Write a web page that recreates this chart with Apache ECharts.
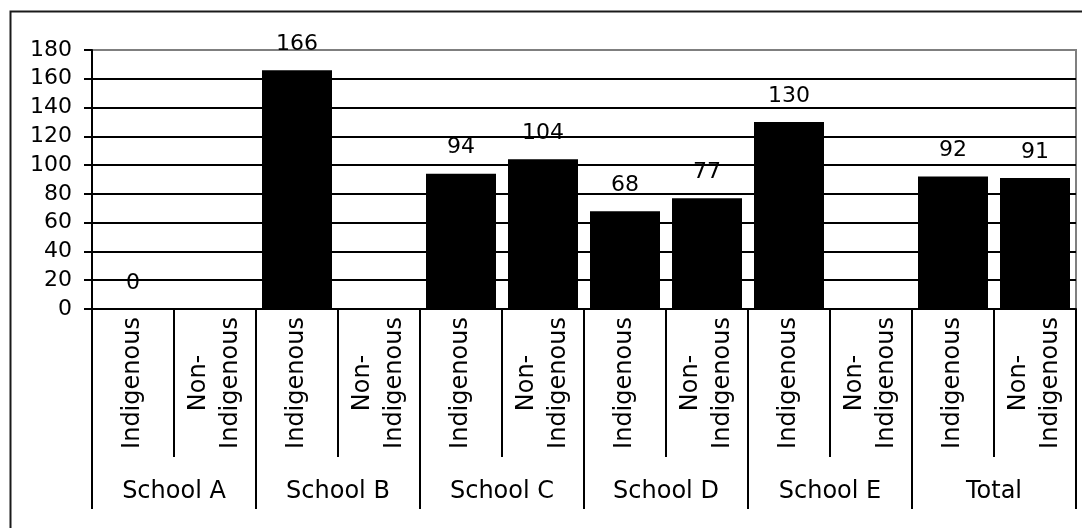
<!DOCTYPE html>
<html><head><meta charset="utf-8">
<script src="https://cdn.jsdelivr.net/npm/echarts@6/dist/echarts.min.js"></script>
<style>html,body{margin:0;padding:0;background:#fff}#c{width:1082px;height:528px}</style>
</head><body><div id="c"></div>
<script>
var groups = ['School A','School B','School C','School D','School E','Total'];
var subLabels = ['Indigenous','Non-\nIndigenous','Indigenous','Non-\nIndigenous','Indigenous','Non-\nIndigenous','Indigenous','Non-\nIndigenous','Indigenous','Non-\nIndigenous','Indigenous','Non-\nIndigenous'];
var values = [0, null, 166, null, 94, 104, 68, 77, 130, null, 92, 91];
var yTicks = {min: 0, max: 180, interval: 20};

var FONT = 'DejaVu Sans';
var chart = echarts.init(document.getElementById('c'));
var splitColors = [];
for (var i = 0; i < 9; i++) splitColors.push('#000');
splitColors.push('#7f7f7f');

chart.setOption({
  animation: false,
  backgroundColor: '#fff',
  graphic: [{
    type: 'rect', left: 8, top: 9, z: 100, silent: true,
    shape: {width: 1100, height: 560},
    style: {fill: 'none', stroke: '#1a1a1a', lineWidth: 2}
  }],
  grid: {left: 92, top: 50, right: 6, bottom: 219, show: true, borderColor: '#7f7f7f', borderWidth: 2, backgroundColor: 'transparent'},
  xAxis: [{
    type: 'category', data: subLabels, position: 'bottom',
    axisLine: {show: true, lineStyle: {color: '#000', width: 2}},
    axisTick: {show: true, length: 148, interval: 0, lineStyle: {color: '#000', width: 2}},
    axisLabel: {interval: 0, rotate: 90, align: 'center', verticalAlign: 'middle', margin: 74,
      fontFamily: FONT, fontSize: 24, lineHeight: 32, color: '#000'},
    z: 10
  }, {
    type: 'category', data: groups, position: 'bottom',
    axisLine: {show: false},
    axisTick: {show: true, length: 200, interval: 0, lineStyle: {color: '#000', width: 2}},
    axisLabel: {interval: 0, margin: 171, fontFamily: FONT, fontSize: 24, color: '#000'},
    z: 10
  }],
  yAxis: {
    type: 'value', min: yTicks.min, max: yTicks.max, interval: yTicks.interval,
    axisLine: {show: true, lineStyle: {color: '#000', width: 2}},
    axisTick: {show: true, length: 8, lineStyle: {color: '#000', width: 2}},
    axisLabel: {margin: 20, fontFamily: FONT, fontSize: 22, color: '#000'},
    splitLine: {show: true, lineStyle: {color: splitColors, width: 2}}
  },
  series: [{
    type: 'bar', data: values, xAxisIndex: 0, barWidth: 70,
    itemStyle: {color: '#000'},
    label: {show: true, position: 'top', distance: 15, fontFamily: FONT, fontSize: 22, color: '#000'}
  }]
});
</script></body></html>
